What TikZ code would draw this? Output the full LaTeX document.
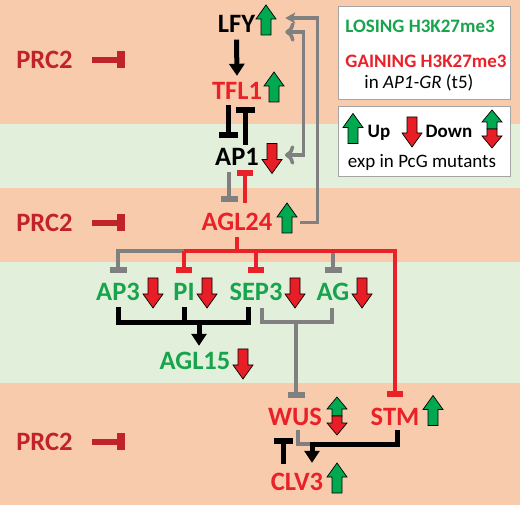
\documentclass[tikz,border=0pt]{standalone}
\usepackage{fontspec}
\setmainfont{Carlito}
\usepackage{tikz}
\usetikzlibrary{arrows.meta, calc, positioning}

\definecolor{salmon}{RGB}{248,203,173}
\definecolor{palegreen}{RGB}{226,239,218}
\definecolor{genred}{RGB}{233,33,41}
\definecolor{gengreen}{RGB}{24,164,76}
\definecolor{prcred}{RGB}{192,35,43}
\definecolor{linegray}{RGB}{128,128,128}
\definecolor{upgreen}{RGB}{0,168,80}
\definecolor{downred}{RGB}{232,30,38}
\definecolor{boxgray}{RGB}{165,165,165}

% expression arrows (centre x, centre y)
\newcommand{\uparr}[2]{\draw[expline, fill=upgreen] (#1,#2) ++(0,-15) -- ++(10,14) -- ++(-5,0) -- ++(0,16) -- ++(-10,0) -- ++(0,-16) -- ++(-5,0) -- cycle;}
\newcommand{\downarr}[2]{\draw[expline, fill=downred] (#1,#2) ++(0,15) -- ++(10,-14) -- ++(-5,0) -- ++(0,-16) -- ++(-10,0) -- ++(0,16) -- ++(-5,0) -- cycle;}
\newcommand{\updownarr}[2]{%
  \draw[expline, fill=upgreen] (#1,#2) ++(0,-19) -- ++(10,12) -- ++(-5,0) -- ++(0,7) -- ++(-10,0) -- ++(0,-7) -- ++(-5,0) -- cycle;
  \draw[expline, fill=downred] (#1,#2) ++(0,19) -- ++(10,-12) -- ++(-5,0) -- ++(0,-7) -- ++(-10,0) -- ++(0,7) -- ++(-5,0) -- cycle;}

\tikzset{
  gene/.style={font=\bfseries\fontsize{26.5}{28}\selectfont, inner sep=0pt, text height=17pt, text depth=0pt},
  leg/.style={font=\fontsize{19}{21}\selectfont, inner sep=0pt, text height=12.2pt, text depth=0pt},
  legb/.style={leg, font=\bfseries\fontsize{19}{21}\selectfont},
  expline/.style={black, line width=0.7pt, line join=miter},
  act/.style={black, line width=5pt, -{Triangle[length=12pt,width=15pt]}},
  blkln/.style={black, line width=5pt},
  blkinh/.style={black, line width=5pt, -{Rectangle[length=6pt,width=19pt]}},
  redinh/.style={genred, line width=4pt, -{Rectangle[length=6pt,width=16pt]}},
  grayln/.style={linegray, line width=3.5pt},
  grayinh/.style={linegray, line width=3.5pt, -{Rectangle[length=6pt,width=17pt]}},
  grayarr/.style={linegray, line width=3.5pt, arrows={-Stealth[length=10pt,width=11pt,inset=2.5pt]}},
  prcinh/.style={prcred, line width=6pt, -{Rectangle[length=8pt,width=17pt]}}
}

\begin{document}
\begin{tikzpicture}[x=1pt, y=-1pt]

        \useasboundingbox (0,0) rectangle (520,505);

        % bands
        \fill[salmon] (0,0) rectangle (520,124);
        \fill[palegreen] (0,124) rectangle (520,188);
        \fill[salmon] (0,188) rectangle (520,262);
        \fill[palegreen] (0,262) rectangle (520,383);
        \fill[salmon] (0,383) rectangle (520,505);

        % legend
        \draw[boxgray, line width=1pt, fill=white] (338,7) rectangle (510,100);
        \draw[boxgray, line width=1pt, fill=white] (338,107) rectangle (510,177);
        \node[legb, text=gengreen] (lose) at (420,26) {LOSING H3K27me3};
        \node[legb, text=genred] (gain) at (426,61) {GAINING H3K27me3};
        \node[leg] (inap) at (419,82) {in \textit{AP1-GR} (t5)};
        \node[legb] (up) at (379,131) {Up};
        \node[legb] (down) at (449,131) {Down};
        \node[leg] (exp) at (422,161) {exp in PcG mutants};
        \uparr{353}{128.5}
        \downarr{412}{132}
        \updownarr{492}{129}

        % PRC2
        \node[gene, text=prcred] (prc1) at (44.5,60) {PRC2};
        \node[gene, text=prcred] (prc2) at (44.5,223) {PRC2};
        \node[gene, text=prcred] (prc3) at (44.5,441.5) {PRC2};
        \draw[prcinh] ([xshift=19pt]prc1.east) -- ++(33,0);
        \draw[prcinh] ([xshift=19pt]prc2.east) -- ++(33,0);
        \draw[prcinh] ([xshift=19pt]prc3.east) -- ++(33,0);

        % genes
        \node[gene] (lfy) at (236.5,24) {LFY};
        \node[gene, text=genred] (tfl) at (237,91.5) {TFL1};
        \node[gene] (ap1) at (237,157) {AP1};
        \node[gene, text=genred] (agl24) at (237,222.5) {AGL24};
        \node[gene, text=gengreen] (ap3) at (118,292.5) {AP3};
        \node[gene, text=gengreen] (pi) at (184,292.5) {PI};
        \node[gene, text=gengreen] (sep3) at (256,292.5) {SEP3};
        \node[gene, text=gengreen] (ag) at (333,292.5) {AG};
        \node[gene, text=gengreen] (agl15) at (195,361.5) {AGL15};
        \node[gene, text=genred] (wus) at (295,416.5) {WUS};
        \node[gene, text=genred] (stm) at (395,416.5) {STM};
        \node[gene, text=genred] (clv3) at (297,481.5) {CLV3};

        \uparr{266}{20}
        \uparr{274}{87}
        \downarr{272}{158.5}
        \uparr{287}{218}
        \downarr{153}{293}
        \downarr{207}{293}
        \downarr{295}{293}
        \downarr{362}{293}
        \downarr{243}{364}
        \updownarr{337}{416}
        \uparr{433}{410.5}
        \uparr{337}{478}

        % top part
        \draw[act] ([yshift=-7pt]lfy.south) -- ([yshift=7pt]tfl.north);
        \draw[blkinh] ([xshift=-9pt,yshift=-5pt]tfl.south) -- ([xshift=-9pt,yshift=10.5pt]ap1.north);
        \draw[blkinh] ([xshift=8pt,yshift=3.5pt]ap1.north) -- ([xshift=8pt,yshift=-7pt]tfl.south);
        \draw[redinh] ([xshift=8pt,yshift=11pt]agl24.north) -- ([xshift=8pt,yshift=-4.5pt]ap1.south);
        \draw[grayinh] ([xshift=-8pt,yshift=-6.5pt]ap1.south) -- ([xshift=-8pt,yshift=12pt]agl24.north);
        \draw[grayarr, <->] ([xshift=30pt,yshift=-8pt]lfy.east) -- ++(18,0) |- ([xshift=26pt,yshift=2pt]ap1.east);
        \draw[grayarr] ([xshift=27pt]agl24.east) -- ++(18,0) |- ([xshift=30pt,yshift=6pt]lfy.east);

        % AGL24 targets
        \coordinate (bus) at (237,251);
        \draw[grayinh] (bus -| pi) -- (bus -| ap3) -- ([yshift=10.5pt]ap3.north);
        \draw[grayinh] (bus -| ag) -- ([yshift=10.5pt]ag.north);
        \draw[redinh] (bus -| pi) -- ([yshift=10.5pt]pi.north);
        \draw[redinh] (bus -| sep3) -- ([yshift=10.5pt]sep3.north);
        \draw[redinh] (bus -| pi) -- (bus -| stm) -- ([yshift=10.5pt]stm.north);
        \draw[genred, line width=4pt] ([yshift=-6pt]agl24.south) -- (bus);

        % AP3, PI, SEP3 -> AGL15
        \coordinate (join1) at (199,322);
        \draw[blkln] ([yshift=-6pt]ap3.south) |- ([xshift=-8pt,yshift=-21pt]sep3.south) -- ([xshift=-8pt,yshift=-6pt]sep3.south);
        \draw[blkln] ([yshift=-6pt]pi.south) -- ([yshift=-21pt]pi.south);
        \draw[act] (join1) -- ([xshift=4pt,yshift=7pt]agl15.north);

        % SEP3, AG -| WUS
        \coordinate (join2) at (296,322);
        \draw[grayln] ([xshift=6pt,yshift=-7pt]sep3.south) |- ([xshift=-1pt,yshift=-21pt]ag.south) -- ([xshift=-1pt,yshift=-7pt]ag.south);
        \draw[grayinh] (join2) -- ([xshift=1pt,yshift=10pt]wus.north);

        % bottom part
        \coordinate (join3) at (312,444);
        \draw[blkinh] ([xshift=-14pt,yshift=9pt]clv3.north) -- ([xshift=-12pt,yshift=-13pt]wus.south);
        \draw[grayln] ([xshift=3pt,yshift=-5pt]wus.south) |- (join3);
        \draw[blkln] ([xshift=2pt,yshift=-5pt]stm.south) |- (join3);
        \draw[act] ([yshift=2.5pt]join3) -- ([xshift=15pt,yshift=10pt]clv3.north);

\end{tikzpicture}
\end{document}
